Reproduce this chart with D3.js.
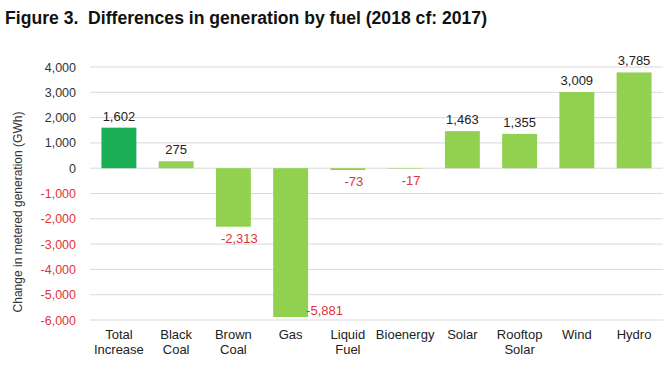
<!DOCTYPE html>
<html>
<head>
<meta charset="utf-8">
<script src="https://cdn.jsdelivr.net/npm/d3@7"></script>
<style>
  body { margin: 0; background: #fff; }
  svg { display: block; }
</style>
</head>
<body>
<svg class="chart" width="670" height="370"></svg>
<script>
/* data */
const categories = ['Total Increase', 'Black Coal', 'Brown Coal', 'Gas', 'Liquid Fuel', 'Bioenergy', 'Solar', 'Rooftop Solar', 'Wind', 'Hydro']
const labelLines = [['Total', 'Increase'], ['Black', 'Coal'], ['Brown', 'Coal'], ['Gas'], ['Liquid', 'Fuel'], ['Bioenergy'], ['Solar'], ['Rooftop', 'Solar'], ['Wind'], ['Hydro']]
const values = [1602, 275, -2313, -5881, -73, -17, 1463, 1355, 3009, 3785]
const yTicks = [4000, 3000, 2000, 1000, 0, -1000, -2000, -3000, -4000, -5000, -6000]

const red = '#e0343c'
const fmt = d3.formatLocale({ decimal: '.', thousands: ',', grouping: [3], currency: ['', ''], minus: '-' }).format(',')

const svg = d3.select('.chart')

// title
svg.append('text')
  .attr('x', 5).attr('y', 24)
  .attr('font-family', '"Liberation Sans", Arial, sans-serif')
  .attr('font-weight', 'bold')
  .attr('font-size', '18px')
  .attr('fill', '#111')
  .attr('textLength', 482)
  .attr('lengthAdjust', 'spacingAndGlyphs')
  .style('white-space', 'pre')
  .text('Figure 3.  Differences in generation by fuel (2018 cf: 2017)')

const x = d3.scaleBand().domain(categories).range([90, 663]).paddingInner(0.39).paddingOuter(0.2)
const y = d3.scaleLinear().domain([-6000, 4000]).range([320, 67])

// grid
svg.append('g').selectAll('line')
  .data(yTicks).enter().append('line')
  .attr('x1', 90).attr('x2', 663)
  .attr('y1', d => y(d)).attr('y2', d => y(d))
  .attr('stroke', '#d9d9d9').attr('stroke-width', 1)

// y axis labels
const yAxis = svg.append('g')
  .attr('transform', 'translate(76,0)')
  .call(d3.axisLeft(y).tickValues(yTicks).tickFormat(fmt).tickSize(0).tickPadding(0))
yAxis.select('.domain').remove()
yAxis.selectAll('text')
  .attr('font-family', '"Liberation Sans", Arial, sans-serif')
  .attr('font-size', '12.5px')
  .attr('fill', d => d < 0 ? red : '#333')

// y title
svg.append('text')
  .attr('transform', 'translate(22,212) rotate(-90)')
  .attr('text-anchor', 'middle')
  .attr('font-family', '"Liberation Sans", Arial, sans-serif')
  .attr('font-size', '12px')
  .attr('fill', '#333')
  .text('Change in metered generation (GWh)')

// bars
svg.append('g').selectAll('rect')
  .data(values).enter().append('rect')
  .attr('x', (d, i) => x(categories[i]))
  .attr('width', x.bandwidth())
  .attr('y', d => y(Math.max(d, 0)))
  .attr('height', d => Math.abs(y(d) - y(0)))
  .attr('fill', (d, i) => i === 0 ? '#1aaf54' : '#92d050')

// value labels
svg.append('g').selectAll('text')
  .data(values).enter().append('text')
  .attr('font-family', '"Liberation Sans", Arial, sans-serif')
  .attr('font-size', '13px')
  .attr('fill', d => d < 0 ? red : '#222')
  .attr('text-anchor', (d, i) => categories[i] === 'Gas' ? 'start' : 'middle')
  .attr('x', (d, i) => {
    const c = x(categories[i])
    if (categories[i] === 'Gas') return c + x.bandwidth() - 2
    return c + x.bandwidth() / 2 + (d < 0 ? 6 : 0)
  })
  .attr('y', (d, i) => {
    if (categories[i] === 'Gas') return y(d) - 2
    return d >= 0 ? y(d) - 7 : y(d) + 16
  })
  .text(d => fmt(d))

// category labels
const cat = svg.append('g').selectAll('text')
  .data(categories).enter().append('text')
  .attr('font-family', '"Liberation Sans", Arial, sans-serif')
  .attr('font-size', '13px')
  .attr('fill', '#222')
  .attr('text-anchor', 'middle')
  .attr('x', d => x(d) + x.bandwidth() / 2)
  .attr('y', 339)
cat.selectAll('tspan')
  .data((d, i) => labelLines[i]).enter().append('tspan')
  .attr('x', function () { return this.parentNode.getAttribute('x') })
  .attr('dy', (d, i) => i === 0 ? 0 : 15)
  .text(d => d)
</script>
</body>
</html>
